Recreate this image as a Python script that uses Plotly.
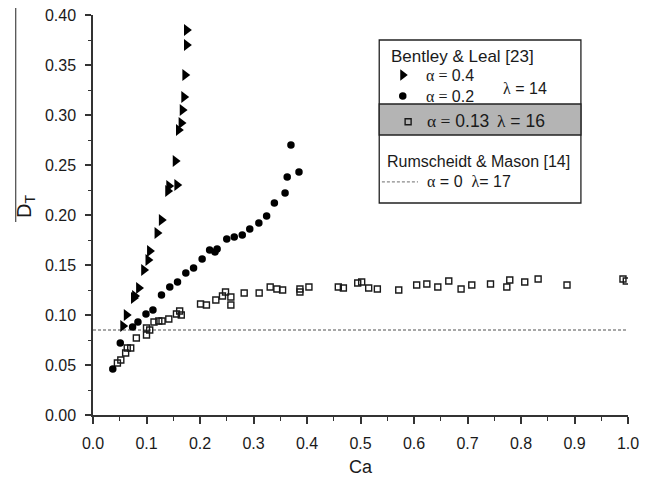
import plotly.graph_objects as go

# ---- data ----
tri_ca = [0.056, 0.0625, 0.076, 0.078, 0.0855, 0.095, 0.103, 0.106, 0.120, 0.128,
          0.140, 0.142, 0.157, 0.154, 0.160, 0.165, 0.167, 0.170, 0.172, 0.175, 0.175]
tri_dt = [0.089, 0.100, 0.117, 0.119, 0.127, 0.145, 0.155, 0.164, 0.182, 0.195,
          0.224, 0.229, 0.230, 0.254, 0.285, 0.292, 0.305, 0.318, 0.340, 0.370, 0.385]

cir_ca = [0.037, 0.051, 0.074, 0.084, 0.099, 0.112, 0.128, 0.1435, 0.158, 0.1735,
          0.188, 0.204, 0.218, 0.228, 0.232, 0.250, 0.264, 0.279, 0.293, 0.310,
          0.3245, 0.339, 0.359, 0.363, 0.370, 0.385]
cir_dt = [0.046, 0.072, 0.088, 0.093, 0.101, 0.105, 0.120, 0.128, 0.133, 0.142,
          0.147, 0.156, 0.165, 0.163, 0.166, 0.176, 0.178, 0.180, 0.186, 0.192,
          0.199, 0.212, 0.222, 0.238, 0.270, 0.243]

sq_ca = [0.0456, 0.052, 0.061, 0.064, 0.0705, 0.081, 0.100, 0.100, 0.106, 0.114,
         0.123, 0.129, 0.1417, 0.156, 0.162, 0.165, 0.201, 0.212, 0.2296, 0.242,
         0.2477, 0.2577, 0.2577, 0.2826, 0.3106, 0.3312, 0.3437, 0.3544, 0.3868, 0.3868,
         0.4036, 0.4585, 0.468, 0.4948, 0.5022, 0.5153, 0.5315, 0.5715, 0.605, 0.624,
         0.6445, 0.665, 0.688, 0.708, 0.743, 0.7735, 0.779, 0.807, 0.832, 0.886,
         0.9906, 0.9968]
sq_dt = [0.052, 0.055, 0.062, 0.067, 0.067, 0.077, 0.080, 0.087, 0.085, 0.093,
         0.094, 0.094, 0.096, 0.101, 0.104, 0.100, 0.111, 0.110, 0.115, 0.119,
         0.123, 0.118, 0.110, 0.122, 0.122, 0.128, 0.126, 0.125, 0.126, 0.123,
         0.128, 0.128, 0.127, 0.132, 0.133, 0.127, 0.126, 0.125, 0.130, 0.131,
         0.128, 0.134, 0.126, 0.130, 0.131, 0.128, 0.135, 0.133, 0.136, 0.130,
         0.136, 0.134]

ref_ca = [0.0, 1.0]
ref_dt = [0.085, 0.085]

x_tickvals = [0.0, 0.1, 0.2, 0.3, 0.4, 0.5, 0.6, 0.7, 0.8, 0.9, 1.0]
x_ticktext = ["0.0", "0.1", "0.2", "0.3", "0.4", "0.5", "0.6", "0.7", "0.8", "0.9", "1.0"]
y_tickvals = [0.00, 0.05, 0.10, 0.15, 0.20, 0.25, 0.30, 0.35, 0.40]
y_ticktext = ["0.00", "0.05", "0.10", "0.15", "0.20", "0.25", "0.30", "0.35", "0.40"]

FONT = "Liberation Sans, Arial, sans-serif"
SERIF = "Liberation Serif, Times New Roman, serif"
INK = "#1a1a1a"

fig = go.Figure()

fig.add_trace(go.Scatter(x=ref_ca, y=ref_dt, mode="lines",
                         line=dict(color="#8a8a8a", width=1.5, dash="3px,2px"),
                         showlegend=False, hoverinfo="skip"))
fig.add_trace(go.Scatter(x=sq_ca, y=sq_dt, mode="markers",
                         marker=dict(symbol="square-open", size=6, color=INK,
                                     line=dict(width=1.4, color=INK)),
                         showlegend=False))
fig.add_trace(go.Scatter(x=cir_ca, y=cir_dt, mode="markers",
                         marker=dict(symbol="circle", size=7.5, color="black"),
                         showlegend=False))
fig.add_trace(go.Scatter(x=tri_ca, y=tri_dt, mode="markers",
                         marker=dict(symbol="triangle-right", size=10.5, color="black"),
                         showlegend=False))

# ---- custom legend (overlay axes spanning the plot area, 0..1) ----
leg_sym_x = [0.579, 0.579, 0.589]
leg_sym_y = [0.850, 0.7975, 0.733]
fig.add_trace(go.Scatter(x=leg_sym_x[:1], y=leg_sym_y[:1], xaxis="x2", yaxis="y2", mode="markers",
                         marker=dict(symbol="triangle-right", size=10, color="black"),
                         showlegend=False, cliponaxis=False))
fig.add_trace(go.Scatter(x=leg_sym_x[1:2], y=leg_sym_y[1:2], xaxis="x2", yaxis="y2", mode="markers",
                         marker=dict(symbol="circle", size=7.5, color="black"),
                         showlegend=False, cliponaxis=False))
fig.add_trace(go.Scatter(x=leg_sym_x[2:], y=leg_sym_y[2:], xaxis="x2", yaxis="y2", mode="markers",
                         marker=dict(symbol="square-open", size=6, color=INK,
                                     line=dict(width=1.4, color=INK)),
                         showlegend=False, cliponaxis=False))
fig.add_trace(go.Scatter(x=[0.540, 0.6075], y=[0.583, 0.583], xaxis="x2", yaxis="y2", mode="lines",
                         line=dict(color="#8a8a8a", width=1.2, dash="3px,2px"),
                         showlegend=False, cliponaxis=False))

shapes = [
    dict(type="rect", xref="paper", yref="paper", x0=0.535, x1=0.912, y0=0.53, y1=0.9375,
         line=dict(color="#222", width=1.3), fillcolor="rgba(0,0,0,0)", layer="below"),
    dict(type="rect", xref="paper", yref="paper", x0=0.535, x1=0.912, y0=0.70, y1=0.7775,
         line=dict(color="#222", width=1.3), fillcolor="#b4b4b4", layer="below"),
    dict(type="line", xref="paper", yref="paper", x0=-0.1445, x1=-0.1445, y0=0.4825, y1=1.0175,
         line=dict(color="#555", width=1.3)),
]

def a(txt):
    return "<span style='font-family:%s'>%s</span>" % (SERIF, txt)

ann = []
def add_text(x, y, t, size=16):
    ann.append(dict(xref="paper", yref="paper", x=x, y=y, text=t, showarrow=False,
                    xanchor="left", yanchor="middle", font=dict(family=FONT, size=size, color=INK)))

add_text(0.553, 0.895, "Bentley &amp; Leal [23]", size=17)
add_text(0.618, 0.850, a("α =") + " 0.4")
add_text(0.618, 0.7975, a("α =") + " 0.2")
add_text(0.762, 0.8175, a("λ") + " = 14")
add_text(0.621, 0.735, a("α =") + " 0.13", size=17.5)
add_text(0.752, 0.735, a("λ") + " = 16", size=17.5)
add_text(0.545, 0.633, "Rumscheidt &amp; Mason [14]")
add_text(0.621, 0.583, a("α") + " = 0  " + a("λ") + "= 17")

# axis titles
ann.append(dict(xref="paper", yref="paper", x=-0.127, y=0.52, text="D<sub>T</sub>",
                showarrow=False, textangle=-90, xanchor="center", yanchor="middle",
                font=dict(family=FONT, size=20, color=INK)))
ann.append(dict(xref="paper", yref="paper", x=0.5, y=-0.13, text="Ca",
                showarrow=False, xanchor="center", yanchor="middle",
                font=dict(family=FONT, size=18, color=INK)))

fig.update_layout(
    width=651, height=481,
    margin=dict(l=93, r=23, t=15, b=66, autoexpand=False),
    paper_bgcolor="white", plot_bgcolor="white",
    font=dict(family=FONT, size=16, color=INK),
    shapes=shapes, annotations=ann,
    xaxis=dict(range=[0, 1], tickvals=x_tickvals, ticktext=x_ticktext, automargin=False,
               showgrid=False, zeroline=False, showline=True, linecolor="#333", linewidth=1.5,
               ticks="outside", ticklen=7, tickwidth=1.5, tickcolor="#333",
               minor=dict(ticks="outside", ticklen=4, tickwidth=1.3, tickcolor="#333", dtick=0.05, showgrid=False),
               tickfont=dict(size=16), ticklabelstandoff=6),
    yaxis=dict(range=[0, 0.40], tickvals=y_tickvals, ticktext=y_ticktext, automargin=False,
               showgrid=False, zeroline=False, showline=True, linecolor="#333", linewidth=1.5,
               ticks="outside", ticklen=6, tickwidth=1.5, tickcolor="#333",
               minor=dict(ticks="outside", ticklen=3, tickwidth=1.3, tickcolor="#333", dtick=0.025, showgrid=False),
               tickfont=dict(size=16), ticklabelstandoff=6),
    xaxis2=dict(range=[0, 1], overlaying="x", anchor="y2", visible=False, fixedrange=True),
    yaxis2=dict(range=[0, 1], overlaying="y", anchor="x2", visible=False, fixedrange=True),
)

fig.write_html("out.html")
